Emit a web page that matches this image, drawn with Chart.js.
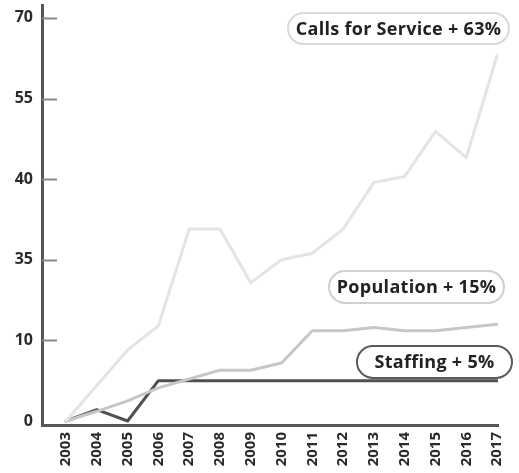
<!DOCTYPE html>
<html>
<head>
<meta charset="utf-8">
<script src="https://cdn.jsdelivr.net/npm/chart.js@4.4.1/dist/chart.umd.min.js"></script>
<style>
  html, body { margin: 0; background: #fff; }
  #wrap { width: 519px; height: 473px; position: relative; }
</style>
</head>
<body>
<div id="wrap"><canvas id="chart"></canvas></div>
<script>
const years = [2003, 2004, 2005, 2006, 2007, 2008, 2009, 2010, 2011, 2012, 2013, 2014, 2015, 2016, 2017];
const callsForService = [0, 4.4, 8.8, 14.5, 36.9, 36.9, 27.9, 35, 35.4, 36.9, 39.8, 40.5, 48.9, 44, 63];
const population = [0, 1.2, 2.5, 4.1, 5.2, 6.3, 6.3, 7.2, 13, 13, 14, 13, 13, 14, 15];
const staffing = [0, 1.4, 0, 5, 5, 5, 5, 5, 5, 5, 5, 5, 5, 5, 5];
const yTickLabels = [0, 10, 35, 40, 55, 70];

// the y axis has evenly spaced ticks with uneven values, so each value is
// placed by linear interpolation between the two ticks around it
function toAxis(v) {
  for (let i = 0; i < yTickLabels.length - 1; i += 1) {
    const a = yTickLabels[i];
    const b = yTickLabels[i + 1];
    if (v <= b) return i + (v - a) / (b - a);
  }
  return yTickLabels.length - 1;
}

const points = (series) => years.map((yr, i) => ({ x: yr, y: toAxis(series[i]) }));
const last = (series) => series[series.length - 1];

const FONT = '"Open Sans", "DejaVu Sans", sans-serif';

const callouts = [
  { text: `Calls for Service + ${last(callsForService)}%`, x: 288, y: 13, w: 221, h: 31, border: '#d9d9d9' },
  { text: `Population + ${last(population)}%`, x: 329, y: 271, w: 175, h: 32, border: '#cfcfcf' },
  { text: `Staffing + ${last(staffing)}%`, x: 357, y: 346, w: 155, h: 32, border: '#5a5a5a' },
];

// short tick marks sitting inside the plot, right of the y axis
const innerTicks = {
  id: 'innerTicks',
  afterDatasetsDraw(chart) {
    const { ctx, chartArea, scales } = chart;
    ctx.save();
    ctx.strokeStyle = '#8a8a8a';
    ctx.lineWidth = 2;
    yTickLabels.forEach((label, i) => {
      if (i === 0) return;
      const y = Math.round(scales.y.getPixelForValue(i)) + 0.5;
      ctx.beginPath();
      ctx.moveTo(chartArea.left, y);
      ctx.lineTo(chartArea.left + 15, y);
      ctx.stroke();
    });
    ctx.restore();
  },
};

const pills = {
  id: 'pills',
  afterDatasetsDraw(chart) {
    const { ctx } = chart;
    callouts.forEach((p) => {
      ctx.save();
      ctx.beginPath();
      ctx.roundRect(p.x, p.y, p.w, p.h, p.h / 2);
      ctx.fillStyle = '#fff';
      ctx.fill();
      ctx.lineWidth = 2;
      ctx.strokeStyle = p.border;
      ctx.stroke();
      ctx.font = `700 18px ${FONT}`;
      ctx.letterSpacing = '0.3px';
      ctx.fillStyle = '#222';
      ctx.textAlign = 'center';
      ctx.textBaseline = 'middle';
      ctx.fillText(p.text, p.x + p.w / 2, p.y + p.h / 2 + 1);
      ctx.restore();
    });
  },
};

new Chart(document.getElementById('chart'), {
  type: 'line',
  data: {
    datasets: [{
      label: 'Calls for Service',
      data: points(callsForService),
      borderColor: '#e4e4e4',
      borderWidth: 3,
    },
    {
      label: 'Population',
      data: points(population),
      borderColor: '#c6c6c6',
      borderWidth: 3,
    },
    {
      label: 'Staffing',
      data: points(staffing),
      borderColor: '#505050',
      borderWidth: 3,
    }],
  },
  options: {
    responsive: true,
    maintainAspectRatio: false,
    animation: false,
    layout: {
      padding: { top: 5, right: 21, left: 0, bottom: 0 },
    },
    plugins: {
      legend: { display: false },
      tooltip: { enabled: false },
    },
    elements: {
      point: { radius: 0 },
      line: { tension: 0, borderJoinStyle: 'round', borderCapStyle: 'round' },
    },
    scales: {
      x: {
        type: 'linear',
        min: 2002.22,
        max: 2017.03,
        afterBuildTicks: (scale) => {
          scale.ticks = years.map((yr) => ({ value: yr }));
        },
        afterFit: (scale) => {
          scale.height = 48;
          scale.paddingLeft = 0;
          scale.paddingRight = 0;
        },
        grid: { display: false, drawTicks: false },
        border: { display: true, color: '#555', width: 3 },
        ticks: {
          autoSkip: false,
          minRotation: 90,
          maxRotation: 90,
          padding: 7,
          color: '#2a2a2a',
          font: { family: FONT, size: 15, weight: '700' },
          callback: (value) => String(value),
        },
      },
      y: {
        min: -0.05,
        max: 5.16,
        afterBuildTicks: (scale) => {
          scale.ticks = yTickLabels.map((label, i) => ({ value: i }));
        },
        afterFit: (scale) => {
          scale.width = 42;
          scale.paddingTop = 0;
          scale.paddingBottom = 0;
        },
        grid: { display: false, drawTicks: false },
        border: { display: true, color: '#555', width: 3 },
        ticks: {
          padding: 9,
          color: '#2a2a2a',
          font: { family: FONT, size: 16, weight: '700' },
          callback: (value) => String(yTickLabels[value]),
        },
      },
    },
  },
  plugins: [innerTicks, pills],
});
</script>
</body>
</html>
